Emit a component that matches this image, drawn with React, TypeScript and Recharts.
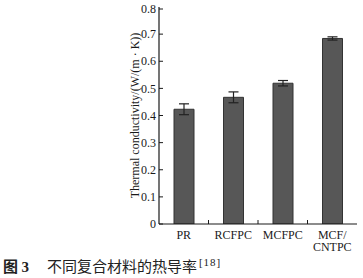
import React from "react";
import { BarChart, Bar, XAxis, YAxis, ErrorBar } from "recharts";

const categories = ["PR", "RCFPC", "MCFPC", "MCF/CNTPC"];
const conductivity = [0.423, 0.467, 0.519, 0.684];
const conductivityErr = [0.02, 0.02, 0.01, 0.006];
const yTicks = [0, 0.1, 0.2, 0.3, 0.4, 0.5, 0.6, 0.7, 0.8];

const yLabel = "Thermal conductivity/(W/(m · K))";
const captionNo = "3";
const captionText = "不同复合材料的热导率";
const captionRef = "[18]";

const data = categories.map((name, i) => ({
  name,
  value: conductivity[i],
  err: conductivityErr[i],
}));

const SERIF = '"Liberation Serif", "Times New Roman", serif';
const INK = "#1a1a1a";
const TICK_GAP = 3;
const HALF_BAND = 24.75;

function YTick({ x, y, payload }: any) {
  const v = Number(payload.value);
  const axisX = x + TICK_GAP;
  return (
    <g>
      <line x1={axisX} x2={axisX + 4} y1={y} y2={y} stroke={INK} strokeWidth={1} />
      <text x={x} y={y} dy="0.35em" textAnchor="end" fontFamily={SERIF} fontSize={12} fill={INK}>
        {v === 0 ? "0" : v.toFixed(1)}
      </text>
    </g>
  );
}

function XTick({ x, y, payload, index }: any) {
  const lines = String(payload.value).split(/(?<=\/)/);
  const axisY = y - 6;
  return (
    <g>
      {index < categories.length - 1 && (
        <line
          x1={x + HALF_BAND}
          x2={x + HALF_BAND}
          y1={axisY}
          y2={axisY - 4}
          stroke={INK}
          strokeWidth={1}
        />
      )}
      <text x={x} y={y} textAnchor="middle" fontFamily={SERIF} fontSize={12} fill={INK}>
        {lines.map((l, i) => (
          <tspan key={i} x={x} dy={i === 0 ? "0.71em" : 12.5}>
            {l}
          </tspan>
        ))}
      </text>
    </g>
  );
}

function YLabel({ viewBox }: any) {
  const cx = viewBox.x + viewBox.width - 24;
  const cy = viewBox.y + viewBox.height / 2;
  return (
    <text
      x={cx}
      y={cy}
      transform={`rotate(-90 ${cx} ${cy})`}
      textAnchor="middle"
      dy="0.35em"
      fontFamily={SERIF}
      fontSize={12}
      fill={INK}
    >
      {yLabel}
    </text>
  );
}

export default function App() {
  return (
    <div style={{ position: "absolute", left: 0, top: 0, width: 363, height: 278, background: "#fff" }}>
      <BarChart
        width={363}
        height={278}
        data={data}
        margin={{ top: 7, right: 6, left: 0, bottom: 24 }}
        barSize={20}
      >
        <XAxis
          dataKey="name"
          height={30}
          tickSize={0}
          tickMargin={6}
          tick={<XTick />}
          axisLine={{ stroke: INK, strokeWidth: 1.2 }}
          interval={0}
        />
        <XAxis
          xAxisId="top"
          dataKey="name"
          orientation="top"
          height={0}
          tick={false}
          tickLine={false}
          axisLine={{ stroke: INK, strokeWidth: 1.2 }}
        />
        <YAxis
          width={159}
          domain={[0, 0.8]}
          ticks={yTicks}
          tickSize={0}
          tickMargin={TICK_GAP}
          tick={<YTick />}
          axisLine={{ stroke: INK, strokeWidth: 1.2 }}
          label={<YLabel />}
          allowDataOverflow
        />
        <YAxis
          yAxisId="right"
          orientation="right"
          width={0}
          domain={[0, 0.8]}
          tick={false}
          tickLine={false}
          axisLine={{ stroke: INK, strokeWidth: 1.2 }}
        />
        <Bar dataKey="value" fill="#575757" stroke="#333" strokeWidth={1} isAnimationActive={false}>
          <ErrorBar dataKey="err" width={5} stroke="#222" strokeWidth={1.2} direction="y" />
        </Bar>
      </BarChart>
      <div
        style={{
          position: "absolute",
          left: 3,
          top: 252,
          fontSize: 15,
          lineHeight: "20px",
          whiteSpace: "nowrap",
          color: "#222",
          fontFamily: '"Liberation Serif", "Noto Sans CJK SC", serif',
        }}
      >
        <span style={{ fontWeight: "bold", fontFamily: '"Noto Sans CJK SC", sans-serif' }}>图 </span>
        <span style={{ fontWeight: "bold" }}>{captionNo}</span>
        <span style={{ marginLeft: 18, fontFamily: '"Noto Sans CJK SC", sans-serif' }}>{captionText}</span>
        <sup style={{ fontSize: 11, verticalAlign: "6px", marginLeft: 2, letterSpacing: 1 }}>{captionRef}</sup>
      </div>
    </div>
  );
}
